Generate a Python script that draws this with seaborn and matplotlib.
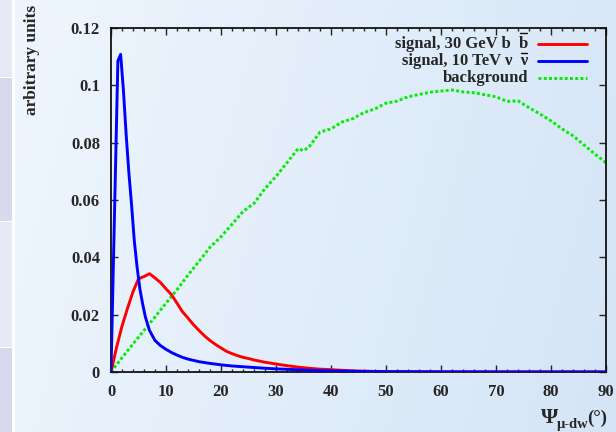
import numpy as np
import pandas as pd
import matplotlib
matplotlib.use("Agg")
import matplotlib.pyplot as plt
from matplotlib.lines import Line2D
from matplotlib.patches import Rectangle
from matplotlib.ticker import MultipleLocator, FuncFormatter
import seaborn as sns

# ---- data: angular distributions (arbitrary units) vs angle in degrees ----
bb_angle = [0, 1, 2, 3, 4, 5, 5.6, 6, 7, 8, 9, 10, 11, 12, 13, 14, 15, 16, 17, 18,
            19, 20, 21, 22, 23, 24, 25, 26, 27, 28, 29, 30, 32, 34, 36, 38, 40, 42,
            44, 46, 48, 50, 55, 60, 70, 80, 90]
bb_signal = [0, 0.0085, 0.0160, 0.0222, 0.0280, 0.0325, 0.0330, 0.0333, 0.0343,
             0.0328, 0.0312, 0.0290, 0.0270, 0.0240, 0.0210, 0.0188, 0.0165, 0.0145,
             0.0126, 0.0110, 0.0096, 0.0084, 0.0072, 0.0064, 0.0057, 0.0051, 0.0047,
             0.0042, 0.0038, 0.0034, 0.0031, 0.0028, 0.0022, 0.0017, 0.0013, 0.0010,
             0.0008, 0.0006, 0.0004, 0.0003, 0.0002, 0.00015, 0.0001, 0.00005,
             0.00002, 0.00002, 0.00002]

nn_angle = [0, 1.25, 1.75, 2.25, 2.75, 3.25, 3.75, 4.25, 4.75, 5.25, 5.75, 6.25, 7,
            8, 9, 10, 11, 12, 13, 14, 16, 18, 20, 22, 25, 28, 30, 35, 40, 45, 50, 60,
            70, 80, 90]
nn_signal = [0, 0.1085, 0.1108, 0.0985, 0.0830, 0.0695, 0.0580, 0.0455, 0.0365,
             0.0290, 0.0238, 0.0192, 0.0145, 0.0110, 0.0092, 0.0079, 0.0068, 0.0059,
             0.0051, 0.0045, 0.0036, 0.0030, 0.0025, 0.0021, 0.0017, 0.0013, 0.0011,
             0.0007, 0.0004, 0.0002, 0.00012, 0.00006, 0.00003, 0.00002, 0.00001]

bg_angle = [0, 2, 4, 6, 8, 10, 12, 14, 16, 18, 20, 22, 24, 26, 28, 30, 32, 34, 35,
            36, 38, 40, 42, 44, 46, 48, 50, 52, 54, 56, 58, 60, 62, 64, 66, 68, 70,
            72, 74, 76, 78, 80, 82, 84, 86, 88, 90]
background = [0, 0.0050, 0.0098, 0.0145, 0.0192, 0.0240, 0.0287, 0.0338, 0.0386,
              0.0435, 0.0472, 0.0515, 0.0560, 0.0588, 0.0640, 0.0682, 0.0730, 0.0779,
              0.0772, 0.0785, 0.0837, 0.0848, 0.0872, 0.0884, 0.0905, 0.0918, 0.0938,
              0.0945, 0.0960, 0.0968, 0.0976, 0.0980, 0.0984, 0.0977, 0.0974, 0.0967,
              0.0960, 0.0944, 0.0946, 0.0922, 0.0900, 0.0876, 0.0848, 0.0824, 0.0792,
              0.0760, 0.0730]

x_ticks = [0, 10, 20, 30, 40, 50, 60, 70, 80, 90]
y_ticks = [0, 0.02, 0.04, 0.06, 0.08, 0.10, 0.12]

# the last glyph of the first two labels carries an overbar (antiparticle);
# the value is the bar's height above the text centre, in pixels
legend_labels = ["signal, 30 GeV b  b", "signal, 10 TeV \u03bd  \u03bd", "background"]
legend_overbar = [11, 8, None]
colors = ["#ff0000", "#0000ff", "#00ee00"]
dotted = (0, (1.0, 0.8))

# ---- style ----
sns.set_style("ticks")
plt.rcParams["font.family"] = ["Liberation Serif", "DejaVu Serif"]
plt.rcParams["font.weight"] = "bold"

W, H = 616, 432
fig = plt.figure(figsize=(W / 100, H / 100), dpi=100)

# page backdrop: soft blue gradient with a lavender side strip
bg = fig.add_axes([0, 0, 1, 1], zorder=0)
bg.set_xlim(0, W)
bg.set_ylim(H, 0)
bg.axis("off")
gx = np.linspace(0, 1, 200)[None, :]
gy = np.linspace(0, 1, 150)[:, None]
t = np.clip(0.8 * gx + 0.15 * gy, 0, 1)
c0 = np.array([0xef, 0xf6, 0xfd]) / 255
c1 = np.array([0xd3, 0xe4, 0xf6]) / 255
img = c0[None, None, :] * (1 - t[..., None]) + c1[None, None, :] * t[..., None]
bg.imshow(img, extent=[14, W, H, 0], aspect="auto", interpolation="bilinear")
bg.add_patch(Rectangle((12, 0), 2, H, color="white"))
for y0, y1, col in [(0, 77, "#e8e8f4"), (78, 221, "#d7d9ec"),
                    (222, 347, "#e8e8f4"), (348, H, "#d7d9ec")]:
    bg.add_patch(Rectangle((0, y0), 12, y1 - y0, color=col, lw=0))

# ---- main plot ----
L, R, T, B = 111, 606, 28, 372
ax = fig.add_axes([L / W, 1 - B / H, (R - L) / W, (B - T) / H], zorder=1)
ax.patch.set_alpha(0)

df_bb = pd.DataFrame({"angle": bb_angle, "value": bb_signal})
df_nn = pd.DataFrame({"angle": nn_angle, "value": nn_signal})
df_bg = pd.DataFrame({"angle": bg_angle, "value": background})

sns.lineplot(data=df_bg, x="angle", y="value", ax=ax, color=colors[2], lw=2.1,
             linestyle=dotted, zorder=2)
sns.lineplot(data=df_bb, x="angle", y="value", ax=ax, color=colors[0], lw=2.1, zorder=3)
sns.lineplot(data=df_nn, x="angle", y="value", ax=ax, color=colors[1], lw=2.1, zorder=4)

ax.set_xlim(0, 90)
ax.set_ylim(0, 0.12)
ax.set_xticks(x_ticks)
ax.set_yticks(y_ticks)
ax.xaxis.set_minor_locator(MultipleLocator(2))
ax.yaxis.set_major_formatter(FuncFormatter(lambda v, p: f"{v:g}"))
ax.tick_params(which="both", direction="in", top=True, right=True, width=1.0,
               color="#222222")
ax.tick_params(which="major", length=5, labelsize=12, pad=8)
ax.tick_params(which="minor", length=2.5)
ax.tick_params(axis="x", which="major", pad=9)
for lab in ax.get_xticklabels() + ax.get_yticklabels():
    lab.set_fontweight("bold")
for s in ax.spines.values():
    s.set_linewidth(1.3)
    s.set_color("#111111")
ax.set_xlabel("")
ax.set_ylabel("")

# legend: right-aligned labels with sample lines to their right
rows = [0.9535, 0.9041, 0.8547]
styles = [dict(color=colors[0], lw=2.1), dict(color=colors[1], lw=2.1),
          dict(color=colors[2], lw=2.1, linestyle=dotted)]
legend_texts = []
for yy, lab, st in zip(rows, legend_labels, styles):
    tx = ax.text(0.8424, yy, lab, transform=ax.transAxes, ha="right", va="center",
                 fontsize=12, fontweight="bold")
    legend_texts.append(tx)
    ax.add_line(Line2D([0.8626, 0.9616], [yy, yy], transform=ax.transAxes, **st))

# overbars above the final glyph of the antiparticle labels
fig.canvas.draw()
renderer = fig.canvas.get_renderer()
inv = fig.transFigure.inverted()
for tx, lab, lift in zip(legend_texts, legend_labels, legend_overbar):
    if lift is None:
        continue
    full = tx.get_window_extent(renderer)
    probe = ax.text(0, 0, lab[-1], fontsize=12, fontweight="bold")
    glyph_w = probe.get_window_extent(renderer).width
    probe.remove()
    x1 = full.x1 - 0.5
    x0 = x1 - glyph_w + 1.5
    ybar = full.y0 + full.height * 0.5 + lift
    (fx0, fy), (fx1, _) = inv.transform([(x0, ybar), (x1, ybar)])
    fig.add_artist(Line2D([fx0, fx1], [fy, fy], transform=fig.transFigure,
                          color="#111111", lw=1.0, zorder=5))

# axis titles
fig.text(32 / W, 1 - 5 / H, "arbitrary units", rotation=90, ha="center", va="top",
         fontsize=12.5, fontweight="bold")
fig.text(541 / W, 1 - 423 / H, "\u03a8", ha="left", va="baseline", fontsize=16,
         fontweight="bold")
fig.text(557 / W, 1 - 428 / H, "\u03bc-dw", ha="left", va="baseline", fontsize=10.5,
         fontweight="bold")
fig.text(587 / W, 1 - 423 / H, "(\u00b0)", ha="left", va="baseline", fontsize=13.5,
         fontweight="bold")

fig.savefig("out.png", dpi=100)
